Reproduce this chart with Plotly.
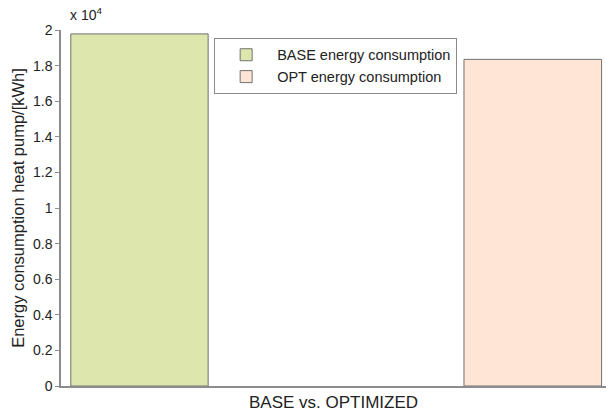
import plotly.graph_objects as go

# Data
category = ["BASE vs. OPTIMIZED"]
series_names = ["BASE energy consumption", "OPT energy consumption"]
base_values = [19780]
opt_values = [18350]
y_tickvals = [0, 2000, 4000, 6000, 8000, 10000, 12000, 14000, 16000, 18000, 20000]
y_ticktext = ["0", "0.2", "0.4", "0.6", "0.8", "1", "1.2", "1.4", "1.6", "1.8", "2"]

FONT = "Liberation Sans, Arial, sans-serif"
TXT = "#222222"
AXC = "#8c8c8c"

fig = go.Figure()
fig.add_trace(go.Bar(
    x=category, y=base_values, name=series_names[0],
    offset=-0.482, width=0.252,
    marker=dict(color="#dde7ad", line=dict(color="#707070", width=1)),
))
fig.add_trace(go.Bar(
    x=category, y=opt_values, name=series_names[1],
    offset=0.2394, width=0.2525,
    marker=dict(color="#fee5d6", line=dict(color="#707070", width=1)),
))

fig.update_layout(
    width=606, height=414,
    margin=dict(l=61, r=0, t=30, b=28),
    paper_bgcolor="white", plot_bgcolor="white",
    barmode="overlay",
    font=dict(family=FONT, color=TXT, size=14),
    showlegend=True,
    legend=dict(
        x=0.281, y=0.978, xanchor="left", yanchor="top",
        bgcolor="white", bordercolor="#8a8a8a", borderwidth=1,
        font=dict(family=FONT, size=14.5, color=TXT),
        itemwidth=52, tracegroupgap=0,
    ),
    xaxis=dict(
        type="category", range=[-0.5, 0.5],
        showline=True, linecolor=AXC, linewidth=1.5,
        ticks="", showgrid=False, zeroline=False,
        tickfont=dict(family=FONT, size=17, color=TXT),
    ),
    yaxis=dict(
        range=[0, 20000], tickvals=y_tickvals, ticktext=y_ticktext,
        showline=True, linecolor=AXC, linewidth=1.5,
        ticks="outside", ticklen=4, tickcolor=AXC, tickwidth=1,
        showgrid=False, zeroline=False,
        tickfont=dict(family=FONT, size=14, color=TXT),
        title=dict(text="Energy consumption heat pump/[kWh]",
                   font=dict(family=FONT, size=16.5, color=TXT), standoff=4),
    ),
    annotations=[dict(
        text="x 10<sup>4</sup>", xref="paper", yref="paper",
        x=0.012, y=1.014, xanchor="left", yanchor="bottom", showarrow=False,
        font=dict(family=FONT, size=14, color=TXT),
    )],
)

fig.write_html("out.html", config={"displayModeBar": False},
               post_script="document.body.style.margin='0';document.body.style.overflow='hidden';")
